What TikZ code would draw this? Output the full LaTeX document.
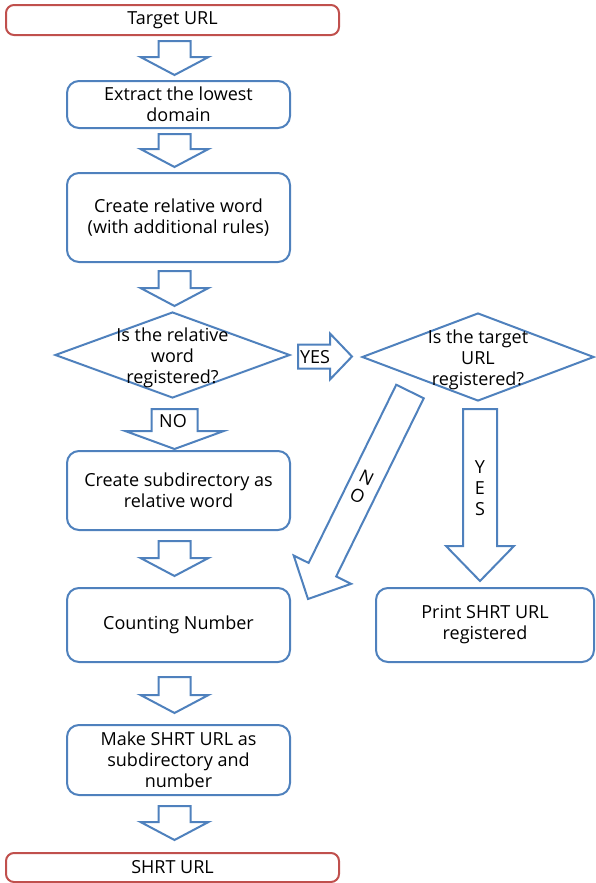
\documentclass[tikz,border=0pt]{standalone}
\usepackage{fontspec}
\setmainfont{Open Sans}
\usetikzlibrary{calc, shapes.geometric}
\definecolor{boxblue}{RGB}{79,129,189}
\definecolor{boxred}{RGB}{192,80,77}
\tikzset{
    box/.style = {draw = boxblue, line width = 1.5pt, rounded corners = 9pt, align = center, inner sep = 0pt},
    term/.style = {box, draw = boxred, rounded corners = 6pt},
    decision/.style = {diamond, draw = boxblue, line width = 1.5pt, inner sep = 0pt},
    fat/.style = {draw = boxblue, fill = white, line width = 1.5pt, line join = miter},
    lbl/.style = {align = center, inner sep = 0pt}
}
\newcommand{\fatarrow}[5]{%
    \path (#1) coordinate (fa-s) (#2) coordinate (fa-e);
    \draw[fat] ($(fa-s)!#3!90:(fa-e)$) -- ($(fa-e)!#5!(fa-s)!#3!90:(fa-e)$)
        -- ($(fa-e)!#5!(fa-s)!#4!90:(fa-e)$) -- (fa-e)
        -- ($(fa-e)!#5!(fa-s)!#4!-90:(fa-e)$) -- ($(fa-e)!#5!(fa-s)!#3!-90:(fa-e)$)
        -- ($(fa-s)!#3!-90:(fa-e)$) -- cycle;
}

\begin{document}
\begin{tikzpicture}[x = 0.75pt, y = -0.75pt, font = \fontsize{13.5pt}{15.75pt}\selectfont]
    \useasboundingbox (0,0) rectangle (596,883);
    \node[term, minimum width = 333*0.75pt, minimum height = 30*0.75pt] (target) at (172.5,20) {Target URL};
    \node[box, minimum width = 223*0.75pt, minimum height = 47*0.75pt] (extract) at (178.5,104.5) {Extract the lowest\\domain};
    \node[box, minimum width = 223*0.75pt, minimum height = 89*0.75pt] (create) at (178.5,217.5) {Create relative word\\(with additional rules)};
    \node[decision, minimum width = 235*0.75pt, minimum height = 86*0.75pt] (isword) at (172.5,355) {};
    \node[lbl] (iswordtext) at ($(isword.center)+(0,3)$) {Is the relative\\word\\registered?};
    \node[decision, minimum width = 232*0.75pt, minimum height = 88*0.75pt] (isurl) at (478,357) {};
    \node[lbl] (isurltext) at ($(isurl.center)+(0,3)$) {Is the target\\URL\\registered?};
    \node[box, minimum width = 223*0.75pt, minimum height = 79*0.75pt] (subdir) at (178.5,490.5) {Create subdirectory as\\relative word};
    \node[box, minimum width = 223*0.75pt, minimum height = 74*0.75pt] (count) at (178.5,625) {Counting Number};
    \node[box, minimum width = 218*0.75pt, minimum height = 74*0.75pt] (print) at (485,625) {Print SHRT URL\\registered};
    \node[box, minimum width = 223*0.75pt, minimum height = 70*0.75pt] (make) at (178.5,760) {Make SHRT URL as\\subdirectory and\\number};
    \node[term, minimum width = 333*0.75pt, minimum height = 29*0.75pt] (shrt) at (172.5,867.5) {SHRT URL};

    \fatarrow{$(target.south)+(2,5)$}{$(extract.north)+(-4,-5)$}{12pt}{25.5pt}{13.5pt}
    \fatarrow{$(extract.south)+(-4,5)$}{$(create.north)+(-4,-5)$}{12pt}{25.5pt}{13.5pt}
    \fatarrow{$(create.south)+(-4,8)$}{$(isword.north)+(2,-5)$}{12pt}{25.5pt}{13.5pt}
    \fatarrow{$(isword.east)+(7,1.5)$}{$(isurl.west)+(-9,-0.5)$}{9pt}{17.25pt}{16.5pt}
    \fatarrow{$(isword.south)+(2,10)$}{$(subdir.north)+(-4,-1)$}{17.25pt}{37pt}{13.5pt}
    \fatarrow{$(isurl.south)+(2,7)$}{$(print.north)+(-5,-6)$}{12.75pt}{25.5pt}{26.25pt}
    \fatarrow{$(isurl.south)+(-68,-10.5)$}{$(count.east)+(17,-26)$}{11.5pt}{24pt}{24.5pt}
    \fatarrow{$(subdir.south)+(-4,10)$}{$(count.north)+(-4,-11)$}{12pt}{25.5pt}{13.5pt}
    \fatarrow{$(count.south)+(-4,14)$}{$(make.north)+(-4,-11)$}{12pt}{25.5pt}{13.5pt}
    \fatarrow{$(make.south)+(-4,10)$}{$(shrt.north)+(2,-12)$}{12pt}{25.5pt}{13.5pt}

    \node[lbl] (yesright) at (315,357) {YES};
    \node[lbl] (nodown) at (173,421) {NO};
    \node[lbl, font = \fontsize{13.5pt}{16pt}\selectfont] (yesdown) at (480,488) {Y\\E\\S};
    \node[lbl, rotate = -26.3, font = \fontsize{13.5pt}{15pt}\selectfont] (nodiag) at (362,487) {N\\O};
\end{tikzpicture}
\end{document}
